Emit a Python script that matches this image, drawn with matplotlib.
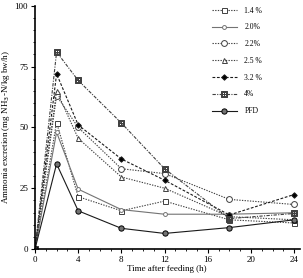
import matplotlib
matplotlib.use("Agg")
import matplotlib.pyplot as plt
from matplotlib.ticker import MultipleLocator

plt.rcParams["font.family"] = ["Liberation Serif", "DejaVu Serif"]

hours = [0, 2, 4, 8, 12, 18, 24]
labels = ["1.4 %", "2.0%", "2.2%", "2.5 %", "3.2 %", "4%", "PFD"]
d14 = [0, 52, 21.5, 15.7, 19.7, 12, 10.7]
d20 = [0, 48, 24.6, 16.2, 14.3, 14.3, 14.9]
d22 = [0, 63, 50, 33, 31, 20.4, 18.3]
d25 = [0, 65, 45.5, 29.6, 25, 13.3, 12]
d32 = [0, 72, 51, 37, 28.3, 14, 22.4]
d40 = [0, 81, 69.3, 51.8, 33, 12.5, 14.6]
pfd = [0, 35, 15.7, 8.5, 6.4, 8.8, 12]

series = [d14, d20, d22, d25, d32, d40, pfd]
styles = [
    dict(ls=(0, (1.2, 1.2)), marker="s", ms=3.6, mfc="white", color="0.25"),
    dict(ls="-", marker="o", ms=2.8, mfc="white", color="0.45"),
    dict(ls=(0, (1.2, 1.2)), marker="o", ms=4.2, mfc="white", color="0.25"),
    dict(ls=(0, (1.2, 1.2)), marker="^", ms=3.6, mfc="white", color="0.25"),
    dict(ls=(0, (2.5, 1.5)), marker="D", ms=2.8, mfc="black", color="0.1"),
    dict(ls=(0, (3, 1.2, 1, 1.2)), marker=r"$\boxplus$", ms=4.6, color="0.25"),
    dict(ls="-", marker="o", ms=3.8, mfc="0.45", mec="black", color="0.1"),
]

fig = plt.figure(figsize=(3.03, 2.78), dpi=100)
ax = fig.add_axes([0.1155, 0.1043, 0.873, 0.875])

for vals, lab, st in zip(series, labels, styles):
    ax.plot(hours, vals, label=lab, lw=0.8, mew=0.7, **st)

ax.set_xlim(0, 24.5)
ax.set_ylim(0, 100)
ax.xaxis.set_major_locator(MultipleLocator(4))
ax.yaxis.set_major_locator(MultipleLocator(25))
ax.yaxis.set_minor_locator(MultipleLocator(5))
ax.xaxis.set_minor_locator(MultipleLocator(1))
ax.spines["top"].set_visible(False)
ax.spines["right"].set_visible(False)
ax.spines["left"].set_linewidth(1.2)
ax.spines["bottom"].set_linewidth(1.2)
ax.tick_params(labelsize=6.5, length=3, width=0.8, pad=2)
ax.tick_params(which="minor", length=1.5, width=0.6)

ax.set_xlabel("Time after feeding (h)", fontsize=6.5, labelpad=1)
ax.set_ylabel("Ammonia excretion (mg NH$_3$-N/kg bw/h)", fontsize=6.5, labelpad=2)

ax.legend(loc="upper right", bbox_to_anchor=(0.885, 1.025), frameon=False,
          fontsize=5.5, handlelength=3.2, labelspacing=1.15, handletextpad=1.0)

fig.savefig("out.png", dpi=100)
